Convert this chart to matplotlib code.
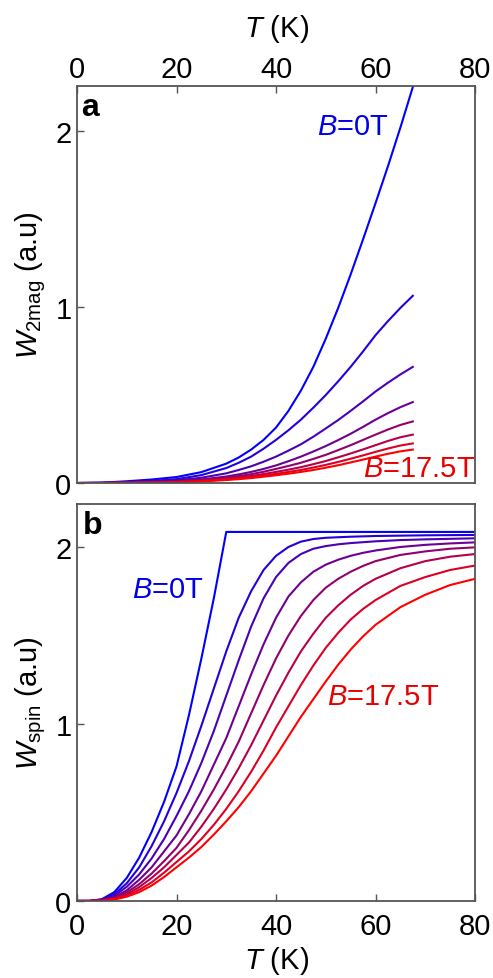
import matplotlib
matplotlib.use("Agg")
import matplotlib.pyplot as plt

plt.rcParams['font.family'] = ['Liberation Sans', 'DejaVu Sans']
plt.rcParams['mathtext.fontset'] = 'custom'
plt.rcParams['mathtext.rm'] = 'Liberation Sans'
plt.rcParams['mathtext.it'] = 'Liberation Sans:italic'

# fields (T), one curve per field
fields = [0, 2.5, 5, 7.5, 10, 12.5, 15, 17.5]

# panel a: W_2mag vs T
T_a = [0, 5, 10, 15, 20, 25, 30, 32.5, 35, 37.5, 40, 42.5, 45, 47.5, 50, 52.5, 55, 57.5,
       60, 62.5, 65, 67.5]
w2mag = [
    [0, 0.002, 0.010, 0.020, 0.034, 0.062, 0.110, 0.145, 0.190, 0.245, 0.315, 0.410, 0.525,
     0.660, 0.820, 0.995, 1.185, 1.385, 1.590, 1.800, 2.020, 2.250],
    [0, 0.001, 0.005, 0.012, 0.022, 0.045, 0.085, 0.115, 0.150, 0.195, 0.245, 0.300, 0.360,
     0.428, 0.500, 0.578, 0.660, 0.748, 0.840, 0.920, 0.995, 1.064],
    [0, 0.001, 0.003, 0.008, 0.015, 0.030, 0.055, 0.074, 0.095, 0.121, 0.150, 0.184, 0.220,
     0.263, 0.310, 0.358, 0.410, 0.464, 0.520, 0.570, 0.617, 0.660],
    [0, 0.000, 0.002, 0.005, 0.010, 0.020, 0.037, 0.049, 0.063, 0.080, 0.100, 0.124, 0.150,
     0.179, 0.210, 0.244, 0.280, 0.319, 0.360, 0.397, 0.431, 0.460],
    [0, 0.000, 0.002, 0.004, 0.008, 0.016, 0.030, 0.039, 0.050, 0.064, 0.080, 0.097, 0.115,
     0.137, 0.160, 0.187, 0.215, 0.245, 0.275, 0.304, 0.330, 0.350],
    [0, 0.000, 0.001, 0.003, 0.006, 0.013, 0.024, 0.032, 0.040, 0.051, 0.063, 0.076, 0.090,
     0.107, 0.125, 0.146, 0.168, 0.191, 0.215, 0.239, 0.260, 0.275],
    [0, 0.000, 0.001, 0.003, 0.005, 0.011, 0.020, 0.026, 0.033, 0.042, 0.052, 0.063, 0.074,
     0.088, 0.103, 0.120, 0.138, 0.157, 0.177, 0.196, 0.213, 0.225],
    [0, 0.000, 0.001, 0.002, 0.004, 0.009, 0.017, 0.022, 0.028, 0.036, 0.044, 0.053, 0.063,
     0.074, 0.087, 0.101, 0.117, 0.133, 0.150, 0.166, 0.180, 0.190],
]

# panel b: W_spin vs T
T_b = [0, 2.5, 5, 7.5, 10, 12.5, 15, 17.5, 20, 22.5, 25, 27.5, 30, 32.5, 35, 37.5, 40,
       42.5, 45, 47.5, 50, 52.5, 55, 57.5, 60, 65, 70, 75, 80]
wspin = [
    [0, 0, 0.010, 0.050, 0.130, 0.245, 0.390, 0.560, 0.760, 1.050, 1.370, 1.710, 2.085,
     2.085, 2.085, 2.085, 2.085, 2.085, 2.085, 2.085, 2.085, 2.085, 2.085, 2.085, 2.085,
     2.085, 2.085, 2.085, 2.085],
    [0, 0, 0.008, 0.038, 0.100, 0.190, 0.310, 0.450, 0.610, 0.790, 0.990, 1.200, 1.410,
     1.600, 1.750, 1.870, 1.950, 2.000, 2.030, 2.045, 2.052, 2.055, 2.058, 2.060, 2.062,
     2.064, 2.066, 2.067, 2.068],
    [0, 0, 0.006, 0.030, 0.080, 0.150, 0.240, 0.350, 0.480, 0.620, 0.780, 0.960, 1.160,
     1.360, 1.550, 1.710, 1.830, 1.910, 1.960, 1.990, 2.005, 2.015, 2.022, 2.027, 2.032,
     2.039, 2.043, 2.046, 2.049],
    [0, 0, 0.004, 0.022, 0.060, 0.120, 0.190, 0.280, 0.370, 0.490, 0.620, 0.770, 0.920,
     1.100, 1.280, 1.450, 1.600, 1.720, 1.800, 1.860, 1.900, 1.928, 1.950, 1.967, 1.980,
     2.000, 2.012, 2.020, 2.026],
    [0, 0, 0.003, 0.017, 0.048, 0.095, 0.155, 0.225, 0.300, 0.400, 0.510, 0.630, 0.760,
     0.900, 1.060, 1.220, 1.370, 1.500, 1.610, 1.700, 1.770, 1.820, 1.860, 1.893, 1.920,
     1.955, 1.975, 1.990, 1.998],
    [0, 0, 0.002, 0.013, 0.038, 0.078, 0.130, 0.190, 0.260, 0.330, 0.420, 0.520, 0.630,
     0.750, 0.880, 1.020, 1.160, 1.290, 1.410, 1.510, 1.600, 1.670, 1.730, 1.780, 1.820,
     1.880, 1.920, 1.945, 1.960],
    [0, 0, 0.002, 0.010, 0.030, 0.063, 0.105, 0.160, 0.220, 0.280, 0.350, 0.430, 0.520,
     0.620, 0.730, 0.850, 0.980, 1.100, 1.220, 1.330, 1.430, 1.515, 1.590, 1.650, 1.700,
     1.780, 1.830, 1.870, 1.895],
    [0, 0, 0.001, 0.008, 0.024, 0.050, 0.087, 0.135, 0.190, 0.245, 0.305, 0.375, 0.450,
     0.530, 0.620, 0.720, 0.820, 0.930, 1.040, 1.140, 1.240, 1.335, 1.420, 1.495, 1.560,
     1.660, 1.730, 1.785, 1.820],
]

n = len(fields)
colors = [(i / (n - 1), 0, 1 - i / (n - 1)) for i in range(n)]
BLUE = (0, 0, 0.9)
RED = (0.9, 0, 0)
SPINE = '#555555'

fig = plt.figure(figsize=(4.93, 9.79), dpi=100)
ax_a = fig.add_axes([0.1562, 0.5056, 0.8073, 0.4055])
ax_b = fig.add_axes([0.1562, 0.0787, 0.8073, 0.4055])

for i in range(n):
    ax_a.plot(T_a, w2mag[i], color=colors[i], lw=1.5)
    ax_b.plot(T_b, wspin[i], color=colors[i], lw=1.5)

for ax in (ax_a, ax_b):
    ax.set_xlim(0, 80)
    ax.set_xticks([0, 20, 40, 60, 80])
    ax.set_yticks([0, 1, 2])
    for s in ax.spines.values():
        s.set_color(SPINE)
        s.set_linewidth(1.3)
    ax.tick_params(direction='in', length=5, width=1, color=SPINE,
                   labelsize=21, pad=4, right=False)

ax_a.set_ylim(0, 2.256)
ax_b.set_ylim(0, 2.243)

# panel a: x axis on top
ax_a.xaxis.set_ticks_position('top')
ax_a.xaxis.set_label_position('top')
ax_a.tick_params(axis='x', bottom=False, labelbottom=False, top=True, labeltop=True, pad=2)
ax_a.set_xlabel('$T$ (K)', fontsize=21, labelpad=14)
ax_b.tick_params(axis='x', top=False, pad=8)
ax_b.set_xlabel('$T$ (K)', fontsize=21, labelpad=3)

ax_a.set_ylabel(r'$W_{\mathrm{2mag}}$ (a.u)', fontsize=21, labelpad=5)
ax_b.set_ylabel(r'$W_{\mathrm{spin}}$ (a.u)', fontsize=21, labelpad=5)

ax_a.text(0.01, 0.985, 'a', transform=ax_a.transAxes, fontsize=23,
          fontweight='bold', va='top', ha='left')
ax_b.text(0.015, 0.985, 'b', transform=ax_b.transAxes, fontsize=23,
          fontweight='bold', va='top', ha='left')

ax_a.text(55.5, 2.03, '$B$=0T', color=BLUE, fontsize=21, ha='center', va='center')
ax_a.text(68.8, 0.085, '$B$=17.5T', color=RED, fontsize=21, ha='center', va='center',
          clip_on=False)
ax_b.text(18.3, 1.76, '$B$=0T', color=BLUE, fontsize=21, ha='center', va='center')
ax_b.text(61.5, 1.16, '$B$=17.5T', color=RED, fontsize=21, ha='center', va='center')

fig.savefig('out.png', dpi=100)
